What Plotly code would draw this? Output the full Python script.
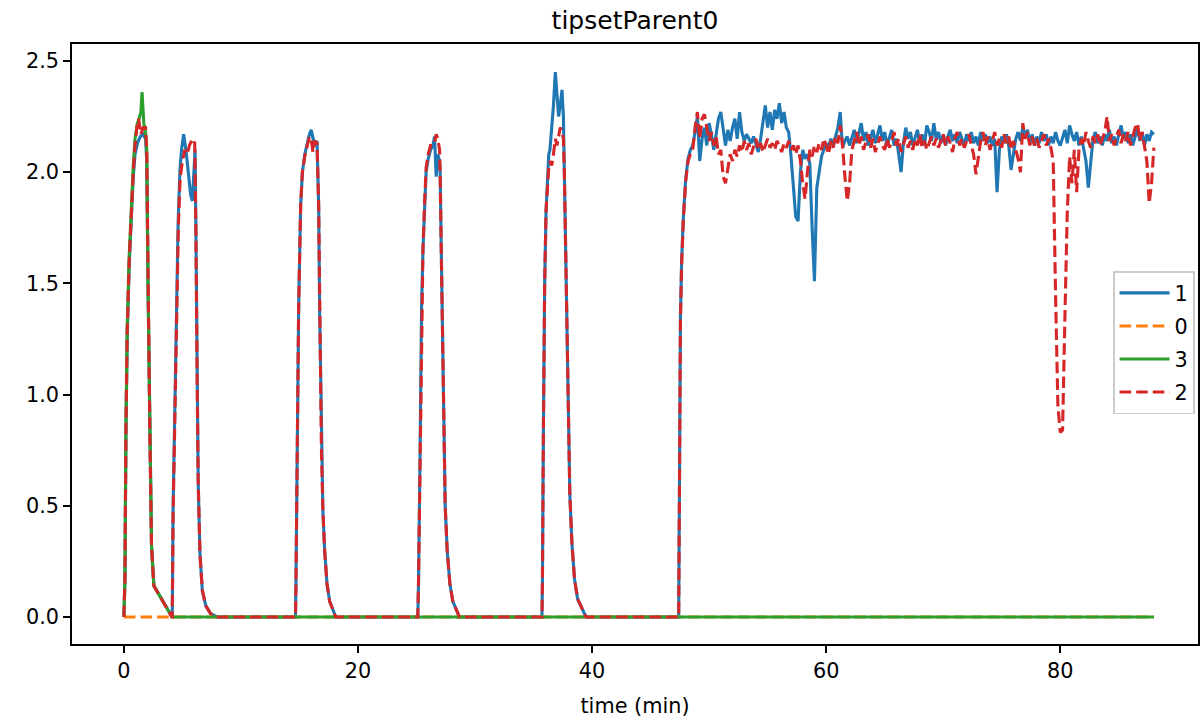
import numpy as np
import plotly.graph_objects as go

# ---------------- data ----------------
# pulse segments (time in min, value)
blue_p1_t = [0.0, 0.09, 0.17, 0.28, 0.45, 0.65, 0.8, 0.95, 1.15, 1.4, 1.65, 1.85, 1.95, 2.07, 2.22, 2.36, 2.56, 4.1]
blue_p1_v = [0, 0.16, 0.8, 1.25, 1.58, 1.82, 1.98, 2.08, 2.13, 2.16, 2.17, 2.15, 2.05, 1.45, 0.8, 0.32, 0.14, 0.0]

green_p1_t = [0.0, 0.09, 0.17, 0.28, 0.45, 0.65, 0.8, 0.95, 1.15, 1.3, 1.45, 1.55, 1.7, 1.85, 1.95, 2.07, 2.22, 2.36, 2.56, 4.1]
green_p1_v = [0, 0.2, 0.85, 1.3, 1.62, 1.88, 2.03, 2.15, 2.22, 2.24, 2.27, 2.36, 2.22, 2.18, 2.1, 1.45, 0.8, 0.32, 0.14, 0.0]

red_p1_t = [0.0, 0.09, 0.17, 0.28, 0.45, 0.65, 0.8, 0.95, 1.1, 1.25, 1.45, 1.65, 1.85, 1.95, 2.07, 2.22, 2.36, 2.56, 4.1]
red_p1_v = [0, 0.18, 0.82, 1.28, 1.6, 1.85, 2.0, 2.12, 2.2, 2.24, 2.17, 2.2, 2.2, 2.1, 1.45, 0.8, 0.32, 0.14, 0.0]

blue_p2_t = [4.13, 4.2, 4.35, 4.5, 4.63, 4.78, 4.92, 5.1, 5.3, 5.5, 5.7, 5.85, 6.0, 6.08, 6.15, 6.25, 6.35, 6.5, 6.7, 7.0, 7.4, 8.0]
blue_p2_v = [0, 0.48, 0.97, 1.45, 1.77, 2.0, 2.1, 2.17, 2.1, 2.0, 1.9, 1.87, 2.02, 2.1, 1.75, 1.1, 0.6, 0.28, 0.12, 0.05, 0.015, 0]
red_p2_t = [4.13, 4.2, 4.35, 4.5, 4.65, 4.8, 5.0, 5.2, 5.4, 5.6, 5.85, 6.05, 6.15, 6.25, 6.35, 6.5, 6.7, 7.0, 7.4, 8.0]
red_p2_v = [0, 0.45, 0.95, 1.42, 1.75, 1.97, 2.05, 2.1, 2.08, 2.12, 2.15, 2.13, 1.75, 1.1, 0.6, 0.28, 0.12, 0.05, 0.015, 0]

p3_t = [14.66, 14.7, 14.8, 14.93, 15.1, 15.25, 15.45, 15.65, 15.85, 16.0, 16.15, 16.3, 16.5, 16.64, 16.72, 16.87, 17.0, 17.15, 17.35, 17.58, 18.1]
blue_p3_v = [0, 0.15, 0.77, 1.39, 1.85, 2.0, 2.08, 2.13, 2.17, 2.19, 2.16, 2.12, 2.14, 1.85, 1.39, 0.77, 0.48, 0.3, 0.15, 0.07, 0]
red_p3_v = [0, 0.15, 0.77, 1.39, 1.85, 2.0, 2.07, 2.11, 2.16, 2.15, 2.09, 2.14, 2.13, 1.85, 1.39, 0.77, 0.48, 0.3, 0.15, 0.07, 0]

p4_t = [25.11, 25.17, 25.31, 25.43, 25.55, 25.68, 25.82, 26.0, 26.2, 26.4, 26.54, 26.68, 26.82, 26.97, 27.02, 27.1, 27.19, 27.33, 27.45, 27.62, 27.85, 28.1, 28.67]
blue_p4_v = [0, 0.15, 0.77, 1.39, 1.65, 1.85, 2.0, 2.06, 2.1, 2.12, 2.16, 1.98, 2.08, 2.05, 2.0, 1.7, 1.39, 0.77, 0.5, 0.3, 0.15, 0.07, 0]
red_p4_v = [0, 0.15, 0.77, 1.39, 1.65, 1.85, 2.02, 2.08, 2.12, 2.12, 2.13, 2.17, 2.15, 2.1, 2.0, 1.7, 1.39, 0.77, 0.5, 0.3, 0.15, 0.07, 0]

p5_t = [35.72, 35.76, 35.84, 35.95, 36.07, 36.2, 36.3, 36.4, 36.55, 36.7, 36.86, 37.0, 37.14, 37.28, 37.43, 37.55, 37.63, 37.7, 37.77, 37.97, 38.1, 38.28, 38.5, 38.77, 39.48]
blue_p5_v = [0, 0.17, 0.83, 1.5, 1.83, 1.98, 2.08, 2.1, 2.2, 2.3, 2.45, 2.32, 2.25, 2.3, 2.37, 2.25, 2.0, 1.75, 1.5, 0.83, 0.55, 0.33, 0.17, 0.08, 0.0]
red_p5_v = [0, 0.17, 0.83, 1.5, 1.83, 1.95, 2.02, 2.05, 2.03, 2.08, 2.15, 2.12, 2.17, 2.2, 2.18, 2.15, 2.0, 1.75, 1.5, 0.83, 0.55, 0.33, 0.17, 0.08, 0.0]

p6_t = [47.4, 47.46, 47.55, 47.65, 47.8, 48.0, 48.2, 48.4]
blue_p6_v = [0, 0.9, 1.35, 1.6, 1.8, 1.97, 2.06, 2.1]
red_p6_v = [0, 0.88, 1.33, 1.58, 1.79, 1.96, 2.05, 2.08]

# plateau after ~48.6 min, sampled every 0.2 min
tail_start = 48.6
tail_step = 0.2
blue_tail = [
    2.12, 2.18, 2.25, 2.05, 2.15,
    2.20, 2.12, 2.22, 2.17, 2.10,
    2.18, 2.24, 2.27, 2.18, 2.12,
    2.19, 2.14, 2.20, 2.24, 2.15,
    2.27, 2.18, 2.14, 2.17, 2.15,
    2.13, 2.16, 2.12, 2.09, 2.15,
    2.24, 2.30, 2.20, 2.27, 2.19,
    2.28, 2.24, 2.31, 2.22, 2.27,
    2.20, 2.18, 2.07, 1.95, 1.80,
    1.78, 2.00, 2.10, 2.06, 2.08,
    2.04, 1.75, 1.51, 1.93, 2.00,
    2.07, 2.10, 2.13, 2.11, 2.15,
    2.12, 2.16, 2.20, 2.27, 2.11,
    2.14, 2.16, 2.12, 2.15, 2.19,
    2.13, 2.17, 2.22, 2.14, 2.18,
    2.12, 2.16, 2.19, 2.13, 2.17,
    2.21, 2.14, 2.18, 2.12, 2.16,
    2.19, 2.12, 2.15, 2.08, 2.00,
    2.13, 2.20, 2.15, 2.18, 2.12,
    2.16, 2.19, 2.13, 2.17, 2.12,
    2.21, 2.18, 2.14, 2.22, 2.15,
    2.18, 2.13, 2.17, 2.12, 2.16,
    2.19, 2.14, 2.17, 2.13, 2.18,
    2.15, 2.12, 2.17, 2.14, 2.18,
    2.13, 2.16, 2.12, 2.18, 2.14,
    2.17, 2.13, 2.16, 2.12, 2.15,
    1.91, 2.10, 2.16, 2.13, 2.17,
    2.12, 2.01, 2.08, 2.15, 2.18,
    2.14, 2.20, 2.16, 2.19, 2.13,
    2.17, 2.12, 2.16, 2.13, 2.18,
    2.14, 2.17, 2.12, 2.16, 2.13,
    2.18, 2.14, 2.12, 2.16, 2.19,
    2.13, 2.21, 2.17, 2.14, 2.18,
    2.12, 2.16, 2.10, 2.05, 1.93,
    2.05, 2.15, 2.18, 2.13, 2.16,
    2.12, 2.17, 2.14, 2.19, 2.13,
    2.16, 2.12, 2.17, 2.21, 2.15,
    2.18, 2.13, 2.17, 2.12, 2.16,
    2.20, 2.14, 2.18, 2.12, 2.17,
    2.14, 2.18, 2.17,
]
red_tail = [
    2.10, 2.20, 2.27, 2.15, 2.24,
    2.26, 2.20, 2.14, 2.18, 2.12,
    2.16, 2.08, 2.10, 1.98, 1.95,
    2.02, 2.08, 2.05, 2.10, 2.07,
    2.12, 2.09, 2.14, 2.10, 2.13,
    2.08, 2.12, 2.15, 2.10, 2.13,
    2.09, 2.12, 2.15, 2.11, 2.13,
    2.10, 2.14, 2.12, 2.09, 2.13,
    2.11, 2.14, 2.10, 2.12, 2.08,
    2.12, 2.05, 1.95, 1.88, 2.00,
    2.10, 2.07, 2.12, 2.09, 2.13,
    2.10, 2.15, 2.12, 2.08, 2.14,
    2.11, 2.16, 2.13, 2.21, 2.12,
    1.98, 1.87, 1.95, 2.10, 2.14,
    2.18, 2.12, 2.16, 2.10, 2.14,
    2.17, 2.11, 2.15, 2.09, 2.13,
    2.16, 2.12, 2.10, 2.15, 2.11,
    2.14, 2.18, 2.12, 2.15, 2.09,
    2.13, 2.16, 2.11, 2.14, 2.10,
    2.15, 2.12, 2.17, 2.11, 2.14,
    2.10, 2.13, 2.16, 2.12, 2.15,
    2.11, 2.14, 2.17, 2.12, 2.16,
    2.13, 2.09, 2.15, 2.18, 2.12,
    2.15, 2.11, 2.14, 2.17, 2.12,
    2.08, 1.99, 2.07, 2.14, 2.18,
    2.12, 2.16, 2.10, 2.14, 2.18,
    2.12, 2.15, 2.11, 2.17, 2.13,
    2.16, 2.10, 2.14, 2.10, 2.06,
    2.00, 2.22, 2.15, 2.18, 2.12,
    2.16, 2.12, 2.15, 2.11, 2.14,
    2.17, 2.12, 2.15, 2.11, 2.05,
    1.45, 0.95, 0.83, 0.84, 1.35,
    1.82, 2.07, 1.95, 2.10, 1.91,
    2.10, 2.15, 2.12, 2.18, 2.14,
    2.11, 2.16, 2.13, 2.17, 2.12,
    2.15, 2.18, 2.25, 2.14, 2.17,
    2.12, 2.16, 2.19, 2.13, 2.17,
    2.14, 2.18, 2.12, 2.16, 2.20,
    2.22, 2.14, 2.18, 2.12, 2.05,
    1.86, 1.95, 2.11,
]

orange_t = [0.0, 88.0]
orange_v = [0.0, 0.0]
green_rest_t = [88.0]
green_rest_v = [0.0]

series_names = ["1", "0", "3", "2"]
series_colors = ["#1f77b4", "#ff7f0e", "#2ca02c", "#d62728"]

x_ticks = [0, 20, 40, 60, 80]
y_ticks = [0.0, 0.5, 1.0, 1.5, 2.0, 2.5]

# ---------------- assemble ----------------
tail_t = [round(tail_start + tail_step * i, 2) for i in range(len(blue_tail))]

blue_t = blue_p1_t + blue_p2_t + p3_t + p4_t + p5_t + p6_t + tail_t
blue_v = blue_p1_v + blue_p2_v + blue_p3_v + blue_p4_v + blue_p5_v + blue_p6_v + blue_tail
red_t = red_p1_t + red_p2_t + p3_t + p4_t + p5_t + p6_t + tail_t
red_v = red_p1_v + red_p2_v + red_p3_v + red_p4_v + red_p5_v + red_p6_v + red_tail
green_t = green_p1_t + green_rest_t
green_v = green_p1_v + green_rest_v

LW = 3.1
DASH = "11.6px,5px"
FONT = "DejaVu Sans, Arial, sans-serif"
FS = 20.8

fig = go.Figure()
series = [
    (blue_t, blue_v, None),
    (orange_t, orange_v, DASH),
    (green_t, green_v, None),
    (red_t, red_v, DASH),
]
for i, (xs, ys, dash) in enumerate(series):
    line = dict(color=series_colors[i], width=LW)
    if dash:
        line["dash"] = dash
    fig.add_trace(go.Scatter(x=xs, y=ys, mode="lines", name=series_names[i],
                             legendgroup=f"g{i}", line=line))

axis_common = dict(
    showgrid=False, zeroline=False, showline=True, linecolor="black", linewidth=1.67,
    mirror=True, ticks="outside", ticklen=7, tickwidth=1.67, tickcolor="black",
    tickfont=dict(family=FONT, size=FS, color="black"),
)

fig.update_layout(
    width=1201, height=720,
    margin=dict(l=72, r=1, t=44, b=76),
    paper_bgcolor="white", plot_bgcolor="white",
    font=dict(family=FONT, size=FS, color="black"),
    title=dict(text="tipsetParent0", x=0.5, xref="paper", y=1 - 20 / 720, yref="container",
               xanchor="center", yanchor="middle", font=dict(family=FONT, size=25, color="black")),
    xaxis=dict(range=[-4.435, 91.77], tickvals=x_ticks, ticktext=[str(v) for v in x_ticks],
               title=dict(text="time (min)", standoff=17, font=dict(family=FONT, size=FS)),
               **axis_common),
    yaxis=dict(range=[-0.1214, 2.576], tickvals=y_ticks, ticktext=[f"{v:.1f}" for v in y_ticks],
               **axis_common),
    legend=dict(x=0.9973, xanchor="right", y=0.502, yanchor="middle",
                bgcolor="rgba(255,255,255,0.8)", bordercolor="#cccccc", borderwidth=1.6,
                font=dict(family=FONT, size=FS), itemwidth=50, tracegroupgap=3),
    showlegend=True,
)

fig.write_html("out.html", post_script="document.body.style.margin='0px';",
               config={"displayModeBar": False})
